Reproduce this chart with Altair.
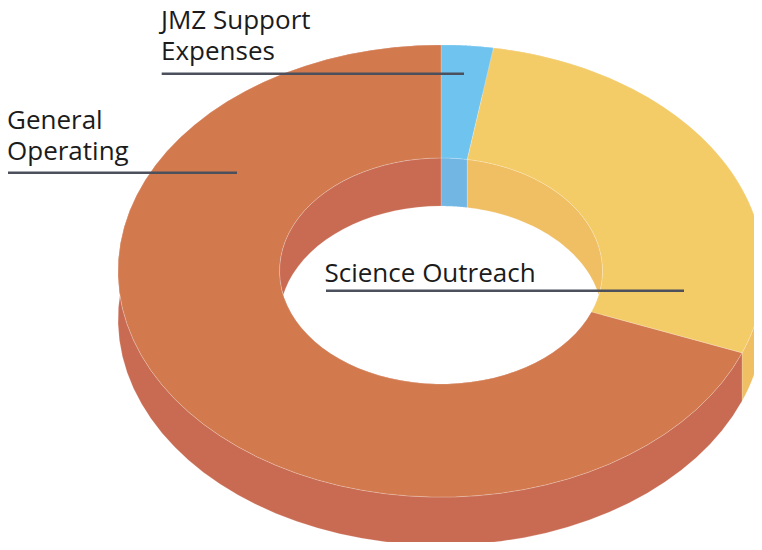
import altair as alt
import pandas as pd

# ---- data ----
categories = ["JMZ Support Expenses", "Science Outreach", "General Operating"]
shares = [2.6, 28.3, 69.1]

# ---- styles ----
top_colors = ["#6FC3EF", "#F3CB67", "#D2794D"]
wall_colors = ["#72B6E4", "#F0BE63", "#C96B53"]
TEXT_COLOR = "#1b1b1b"
LEADER_COLOR = "#4b505c"
FONT = "Open Sans"

df = pd.DataFrame({"category": categories, "share": shares,
                   "rank": list(range(len(categories)))})

N = 60          # points per arc
RY = 0.70       # vertical squash of the tilted ring
RIN = 0.5       # inner radius / outer radius
DEPTH = 0.149   # thickness of the ring

W, H = 746, 534
xscale = alt.Scale(domain=[-433 / 323, (W - 433) / 323], nice=False, zero=False)
yscale = alt.Scale(domain=[(263 - H) / 323, 263 / 323], nice=False, zero=False)

base = alt.Chart(df).transform_window(
    cum="sum(share)", sort=[alt.SortField("rank")], frame=[None, 0]
).transform_joinaggregate(
    total="sum(share)"
).transform_calculate(
    t0="2*PI*(datum.cum - datum.share)/datum.total",
    t1="2*PI*datum.cum/datum.total",
    pts=f"sequence(0, {2 * N + 2})",
).transform_flatten(["pts"], as_=["i"])


def polygon(r1, dy1, r2, dy2, colors, stroke_op):
    return base.transform_calculate(
        ang=(f"datum.i <= {N} ? datum.t0 + (datum.t1-datum.t0)*datum.i/{N}"
             f" : datum.t1 - (datum.t1-datum.t0)*(datum.i-{N + 1})/{N}"),
        r=f"datum.i <= {N} ? {r1} : {r2}",
        dy=f"datum.i <= {N} ? {dy1} : {dy2}",
    ).transform_calculate(
        px="datum.r*sin(datum.ang)",
        py=f"datum.r*{RY}*cos(datum.ang) + datum.dy",
    ).mark_line(
        interpolate="linear-closed", strokeWidth=0.6, stroke="white",
        strokeOpacity=stroke_op
    ).encode(
        x=alt.X("px:Q", scale=xscale, axis=None),
        y=alt.Y("py:Q", scale=yscale, axis=None),
        fill=alt.Fill("category:N",
                      scale=alt.Scale(domain=categories, range=colors),
                      legend=None),
        detail="category:N",
        order=alt.Order("i:Q"),
    )


outer_wall = polygon(1, 0, 1, -DEPTH, wall_colors, 0.3)
inner_wall = polygon(RIN, 0, RIN, -DEPTH, wall_colors, 0.3)
top_face = polygon(1, 0, RIN, 0, top_colors, 0.35)

one = alt.Data(values=[{}])


def label(txt, x, y):
    return alt.Chart(one).mark_text(
        font=FONT, fontSize=26, color=TEXT_COLOR, align="left",
        baseline="alphabetic"
    ).encode(x=alt.value(x), y=alt.value(y), text=alt.value(txt))


def leader(x1, x2, y):
    return alt.Chart(one).mark_rule(
        color=LEADER_COLOR, strokeWidth=2.5
    ).encode(x=alt.value(x1), x2=alt.value(x2), y=alt.value(y))


chart = alt.layer(
    outer_wall, inner_wall, top_face,
    label("JMZ Support", 153, 21.3),
    label("Expenses", 153, 52),
    label("General", -1, 120.5),
    label("Operating", -1, 151.5),
    label("Science Outreach", 316.5, 274),
    leader(153.7, 456, 65.7),
    leader(-1, 229, 164.7),
    leader(318, 676, 282.7),
).resolve_scale(
    fill="independent"
).properties(
    width=W, height=H, padding=0,
    autosize=alt.AutoSizeParams(type="none"),
    background="white",
).configure_view(stroke=None)

chart.save("out.html", embed_options={"renderer": "svg", "actions": False})
